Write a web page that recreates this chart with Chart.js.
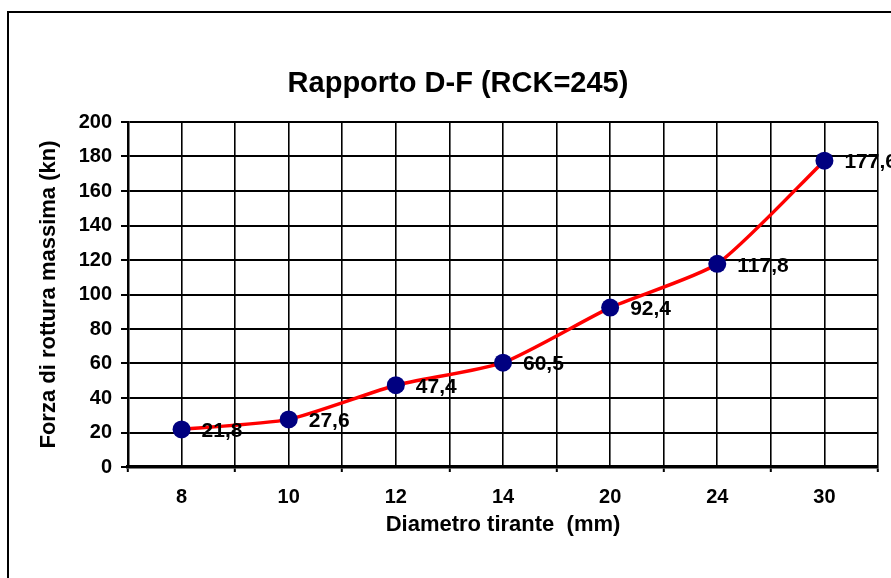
<!DOCTYPE html>
<html>
<head>
<meta charset="utf-8">
<script src="https://cdn.jsdelivr.net/npm/chart.js@4.4.1/dist/chart.umd.min.js"></script>
<style>
html,body{margin:0;padding:0;background:#fff;}
#wrap{width:891px;height:578px;position:relative;}
</style>
</head>
<body>
<div id="wrap"><canvas id="c" width="891" height="578"></canvas></div>
<script>
const categories = ['8', '10', '12', '14', '20', '24', '30'];
const forza = [21.8, 27.6, 47.4, 60.5, 92.4, 117.8, 177.6];
const valueLabels = ['21,8', '27,6', '47,4', '60,5', '92,4', '117,8', '177,6'];
const yTicks = [0, 20, 40, 60, 80, 100, 120, 140, 160, 180, 200];

const FONT = 'Liberation Sans, Arial, Helvetica, sans-serif';

const frame = {
  id: 'frame',
  beforeDraw(chart) {
    const ctx = chart.ctx;
    ctx.save();
    ctx.fillStyle = '#fff';
    ctx.fillRect(0, 0, chart.width, chart.height);
    ctx.strokeStyle = '#000';
    ctx.lineWidth = 2;
    ctx.strokeRect(8, 12, 1000, 1000);
    ctx.restore();
  }
};

const valueLabelPlugin = {
  id: 'valueLabels',
  afterDatasetsDraw(chart) {
    const ctx = chart.ctx;
    const meta = chart.getDatasetMeta(0);
    ctx.save();
    ctx.font = 'bold 21px ' + FONT;
    ctx.fillStyle = '#000';
    ctx.textAlign = 'left';
    ctx.textBaseline = 'middle';
    meta.data.forEach((pt, i) => {
      ctx.fillText(valueLabels[i], pt.x + 20, pt.y + 2);
    });
    ctx.restore();
  }
};

const points = forza.map((v, i) => ({x: i, y: v}));

new Chart(document.getElementById('c'), {
  type: 'line',
  data: {
    datasets: [{
      data: points,
      borderColor: '#ff0000',
      borderWidth: 3.5,
      tension: 0.2,
      pointRadius: 9,
      pointHoverRadius: 9,
      pointBackgroundColor: '#000080',
      pointBorderColor: '#000080',
      pointBorderWidth: 0,
      fill: false
    }]
  },
  options: {
    responsive: false,
    animation: false,
    devicePixelRatio: 1,
    layout: {padding: {left: 38, right: 13, top: 0, bottom: 40}},
    plugins: {
      legend: {display: false},
      tooltip: {enabled: false},
      title: {
        display: true,
        text: 'Rapporto D-F (RCK=245)',
        color: '#000',
        font: {family: FONT, size: 29, weight: 'bold'},
        padding: {top: 66.6, bottom: 20.6}
      }
    },
    scales: {
      x: {
        type: 'linear',
        min: -0.5,
        max: 6.5,
        afterBuildTicks(scale) {
          const t = [];
          for (let v = -0.5; v <= 6.5001; v += 0.5) t.push({value: v});
          scale.ticks = t;
        },
        afterFit(scale) { scale.height = 71; },
        grid: {
          color: '#000',
          lineWidth: 1.6,
          drawTicks: true,
          tickLength: 5,
          tickColor: (c) => (c.tick && Math.abs(c.tick.value % 1) > 0.01) ? '#000' : 'rgba(0,0,0,0)',
          tickWidth: 2
        },
        border: {display: true, color: '#000', width: 3.5},
        ticks: {
          autoSkip: false,
          maxRotation: 0,
          padding: 13,
          color: '#000',
          font: {family: FONT, size: 20, weight: 'bold'},
          callback: (v) => (Math.abs(v % 1) < 0.01 ? categories[Math.round(v)] : '')
        },
        title: {
          display: true,
          text: 'Diametro tirante  (mm)',
          color: '#000',
          font: {family: FONT, size: 22, weight: 'bold'},
          padding: {top: 0, bottom: 0}
        }
      },
      y: {
        type: 'linear',
        min: 0,
        max: 200,
        afterBuildTicks(scale) {
          scale.ticks = yTicks.map(v => ({value: v}));
        },
        afterFit(scale) { scale.width = 90; },
        grid: {
          color: '#000',
          lineWidth: 2,
          drawTicks: true,
          tickLength: 7,
          tickColor: '#000'
        },
        border: {display: true, color: '#000', width: 2.5},
        ticks: {
          padding: 9,
          color: '#000',
          font: {family: FONT, size: 20, weight: 'bold'}
        },
        title: {
          display: true,
          text: 'Forza di rottura massima (kn)',
          color: '#000',
          font: {family: FONT, size: 22, weight: 'bold'},
          padding: {top: -2.2, bottom: 0}
        }
      }
    }
  },
  plugins: [frame, valueLabelPlugin]
});
</script>
</body>
</html>
